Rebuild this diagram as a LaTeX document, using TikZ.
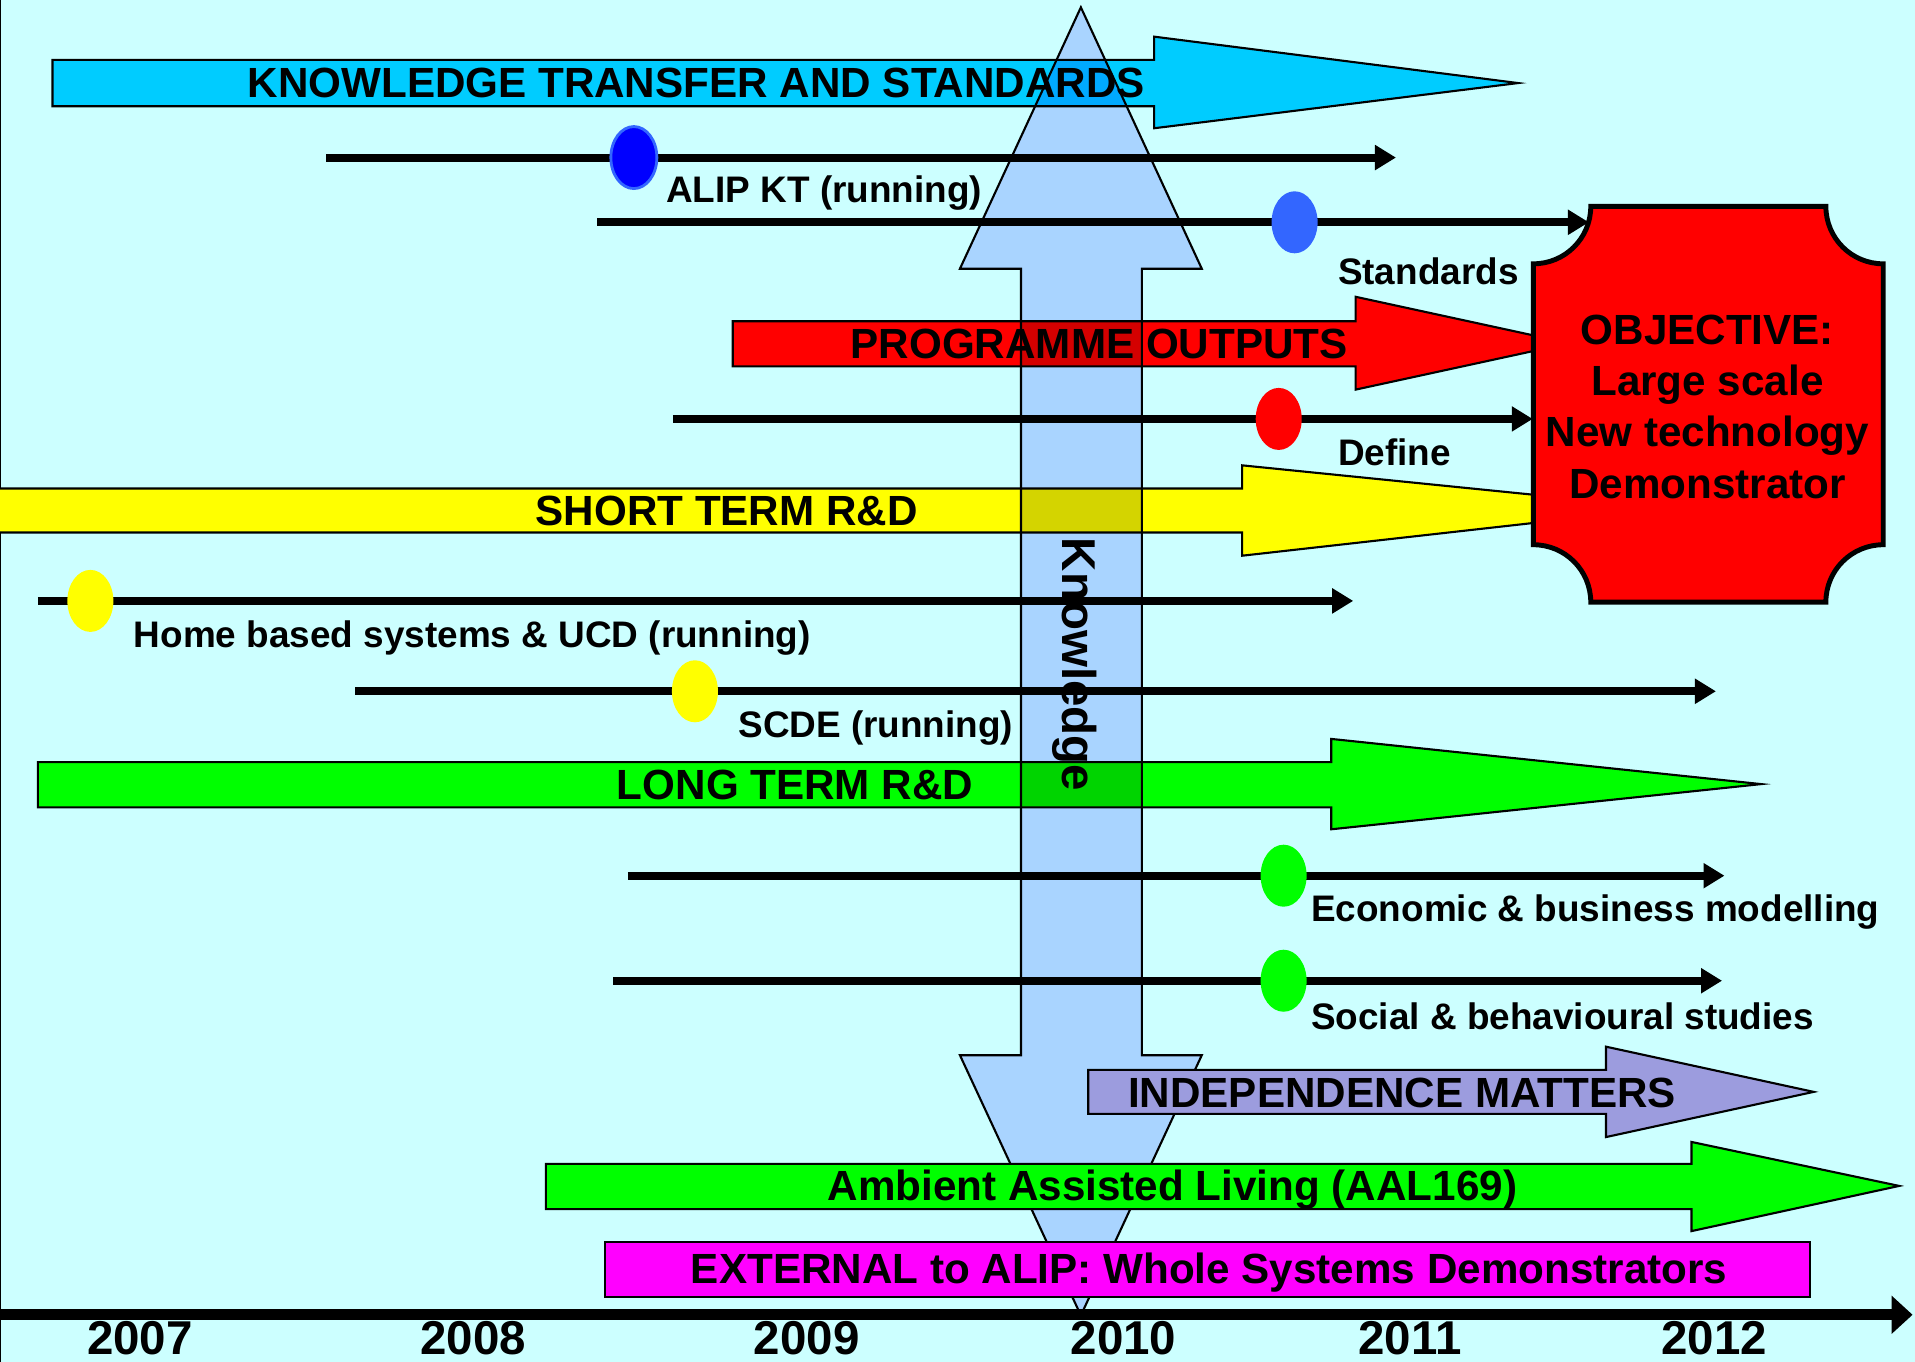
\documentclass[tikz,border=0pt]{standalone}
\usepackage{fontspec}
\setmainfont{Liberation Sans}
\usetikzlibrary{arrows.meta,shapes.geometric}

\definecolor{bgcyan}{RGB}{204,255,255}
\definecolor{ktblue}{RGB}{0,204,255}
\definecolor{knowblue}{RGB}{212,212,255}
\definecolor{lavender}{RGB}{156,156,222}
\definecolor{dotblue}{RGB}{0,0,255}
\definecolor{dotblueb}{RGB}{51,102,255}
\definecolor{bandred}{RGB}{255,0,0}
\definecolor{bandyellow}{RGB}{255,255,0}
\definecolor{bandgreen}{RGB}{0,255,0}
\definecolor{bandmagenta}{RGB}{255,0,255}

\tikzset{
  band/.style = {draw=black, line width=0.6pt},
  bandtext/.style = {font=\bfseries\fontsize{12}{14}\selectfont, inner sep=0pt},
  tasktext/.style = {font=\bfseries\fontsize{10.5}{12}\selectfont, inner sep=0pt, anchor=west},
  track/.style = {line width=2.3pt, -{Triangle[length=2.1mm, width=2.4mm]}},
  milestone/.style = {ellipse, inner sep=0pt, minimum width=0.46cm, minimum height=0.62cm},
  yeartext/.style = {font=\bfseries\fontsize{13.5}{16}\selectfont, inner sep=0pt, anchor=base},
}

\begin{document}
\begin{tikzpicture}[x=0.012213cm, y=-0.012213cm]
  \useasboundingbox (0,0) rectangle (1568,1115);
  \fill[bgcyan] (0,0) rectangle (1568,1115);
  \draw[line width=0.8pt] (0,0) -- (0,1115);

  % programme bands
  \draw[band, fill=ktblue] (43,49) -- (945,49) -- (945,30) -- (1243,68) -- (945,105) -- (945,87) -- (43,87) -- cycle;
  \node[bandtext] (kt) at (570,68) {KNOWLEDGE TRANSFER AND STANDARDS};
  \draw[band, fill=bandred] (600,263) -- (1110,263) -- (1110,243) -- (1285,281) -- (1110,319) -- (1110,300) -- (600,300) -- cycle;
  \node[bandtext] (outputs) at (900,282) {PROGRAMME OUTPUTS};
  \draw[band, fill=bandyellow] (-5,400) -- (1017,400) -- (1017,381) -- (1364,416) -- (1017,455) -- (1017,436) -- (-5,436) -- cycle;
  \node[bandtext] (short) at (595,418) {SHORT TERM R\&D};
  \draw[band, fill=bandgreen] (31,624) -- (1090,624) -- (1090,605) -- (1442,642) -- (1090,679) -- (1090,661) -- (31,661) -- cycle;
  \node[bandtext] (long) at (651,643) {LONG TERM R\&D};

  % projects
  \coordinate (t1s) at (267,129);  \coordinate (t1e) at (1143,129);
  \coordinate (t2s) at (489,182);  \coordinate (t2e) at (1301,182);
  \coordinate (t3s) at (551,343);  \coordinate (t3e) at (1255,343);
  \coordinate (t4s) at (31,492);   \coordinate (t4e) at (1108,492);
  \coordinate (t5s) at (291,566);  \coordinate (t5e) at (1405,566);
  \coordinate (t6s) at (514,717);  \coordinate (t6e) at (1412,717);
  \coordinate (t7s) at (502,803);  \coordinate (t7e) at (1410,803);
  \draw[track] (t1s) -- (t1e);
  \draw[track] (t2s) -- (t2e);
  \draw[track] (t3s) -- (t3e);
  \draw[track] (t4s) -- (t4e);
  \draw[track] (t5s) -- (t5e);
  \draw[track] (t6s) -- (t6e);
  \draw[track] (t7s) -- (t7e);
  \node[milestone, fill=dotblue, draw=dotblueb, line width=0.8pt] (alipkt) at (519,129) {};
  \node[milestone, fill=dotblueb] (stand) at (1060,182) {};
  \node[milestone, fill=bandred] (define) at (1047,343) {};
  \node[milestone, fill=bandyellow] (home) at (74,492) {};
  \node[milestone, fill=bandyellow] (scde) at (569,566) {};
  \node[milestone, fill=bandgreen] (econ) at (1051,717) {};
  \node[milestone, fill=bandgreen] (social) at (1051,803) {};
  \node[tasktext] (alipktl) at (545,158) {ALIP KT (running)};
  \node[tasktext] (standl) at (1095,222) {Standards};
  \node[tasktext] (definel) at (1095,370) {Define};
  \node[tasktext] (homel) at (109,522) {Home based systems \& UCD (running)};
  \node[tasktext] (scdel) at (604,596) {SCDE (running)};
  \node[tasktext] (econl) at (1073,747) {Economic \& business modelling};
  \node[tasktext] (sociall) at (1073,832) {Social \& behavioural studies};

  % objective
  \draw[fill=bandred, line width=1.4pt] (1302.5,169) -- (1495,169)
    .. controls (1495,195) and (1516,216) .. (1542,216) -- (1542,446)
    .. controls (1516,446) and (1495,467) .. (1495,493) -- (1302.5,493)
    .. controls (1302.5,467) and (1281.5,446) .. (1255.5,446) -- (1255.5,216)
    .. controls (1281.5,216) and (1302.5,195) .. (1302.5,169) -- cycle;
  \node[bandtext, align=center, font=\bfseries\fontsize{12}{14.6}\selectfont] (obj) at (1398,333) {OBJECTIVE:\\Large scale\\New technology\\Demonstrator};

  % knowledge
  \begin{scope}[blend mode=multiply]
    \draw[fill=knowblue, line width=0.6pt] (885,6) -- (984,220) -- (935,220) -- (935,864) -- (984,864) -- (885,1077) -- (786,864) -- (836,864) -- (836,220) -- (786,220) -- cycle;
  \end{scope}
  \node[rotate=-90, font=\bfseries\fontsize{13.5}{16}\selectfont, inner sep=0pt] (know) at (880,544) {Knowledge};

  \draw[band, fill=lavender] (891,876) -- (1315,876) -- (1315,857) -- (1485,894) -- (1315,931) -- (1315,912) -- (891,912) -- cycle;
  \node[bandtext] (indep) at (1148,895) {INDEPENDENCE MATTERS};
  \draw[band, fill=bandgreen] (447,953) -- (1385,953) -- (1385,935) -- (1555,971) -- (1385,1008) -- (1385,990) -- (447,990) -- cycle;
  \node[bandtext] (aal) at (960,974) {Ambient Assisted Living (AAL169)};
  \draw[band, fill=bandmagenta] (495,1017) rectangle (1482,1062);
  \node[bandtext] (ext) at (990,1042) {EXTERNAL to ALIP: Whole Systems Demonstrators};

  % time axis
  \coordinate (axs) at (0,1076.5);
  \coordinate (axe) at (1566,1076.5);
  \draw[line width=3pt, -{Triangle[length=2.1mm, width=3.7mm]}] (axs) -- (axe);
  \node[yeartext] (y2007) at (114.5,1109) {2007};
  \node[yeartext] (y2008) at (387.5,1109) {2008};
  \node[yeartext] (y2009) at (660.5,1109) {2009};
  \node[yeartext] (y2010) at (920,1109) {2010};
  \node[yeartext] (y2011) at (1154.5,1109) {2011};
  \node[yeartext] (y2012) at (1403.5,1109) {2012};
\end{tikzpicture}
\end{document}
